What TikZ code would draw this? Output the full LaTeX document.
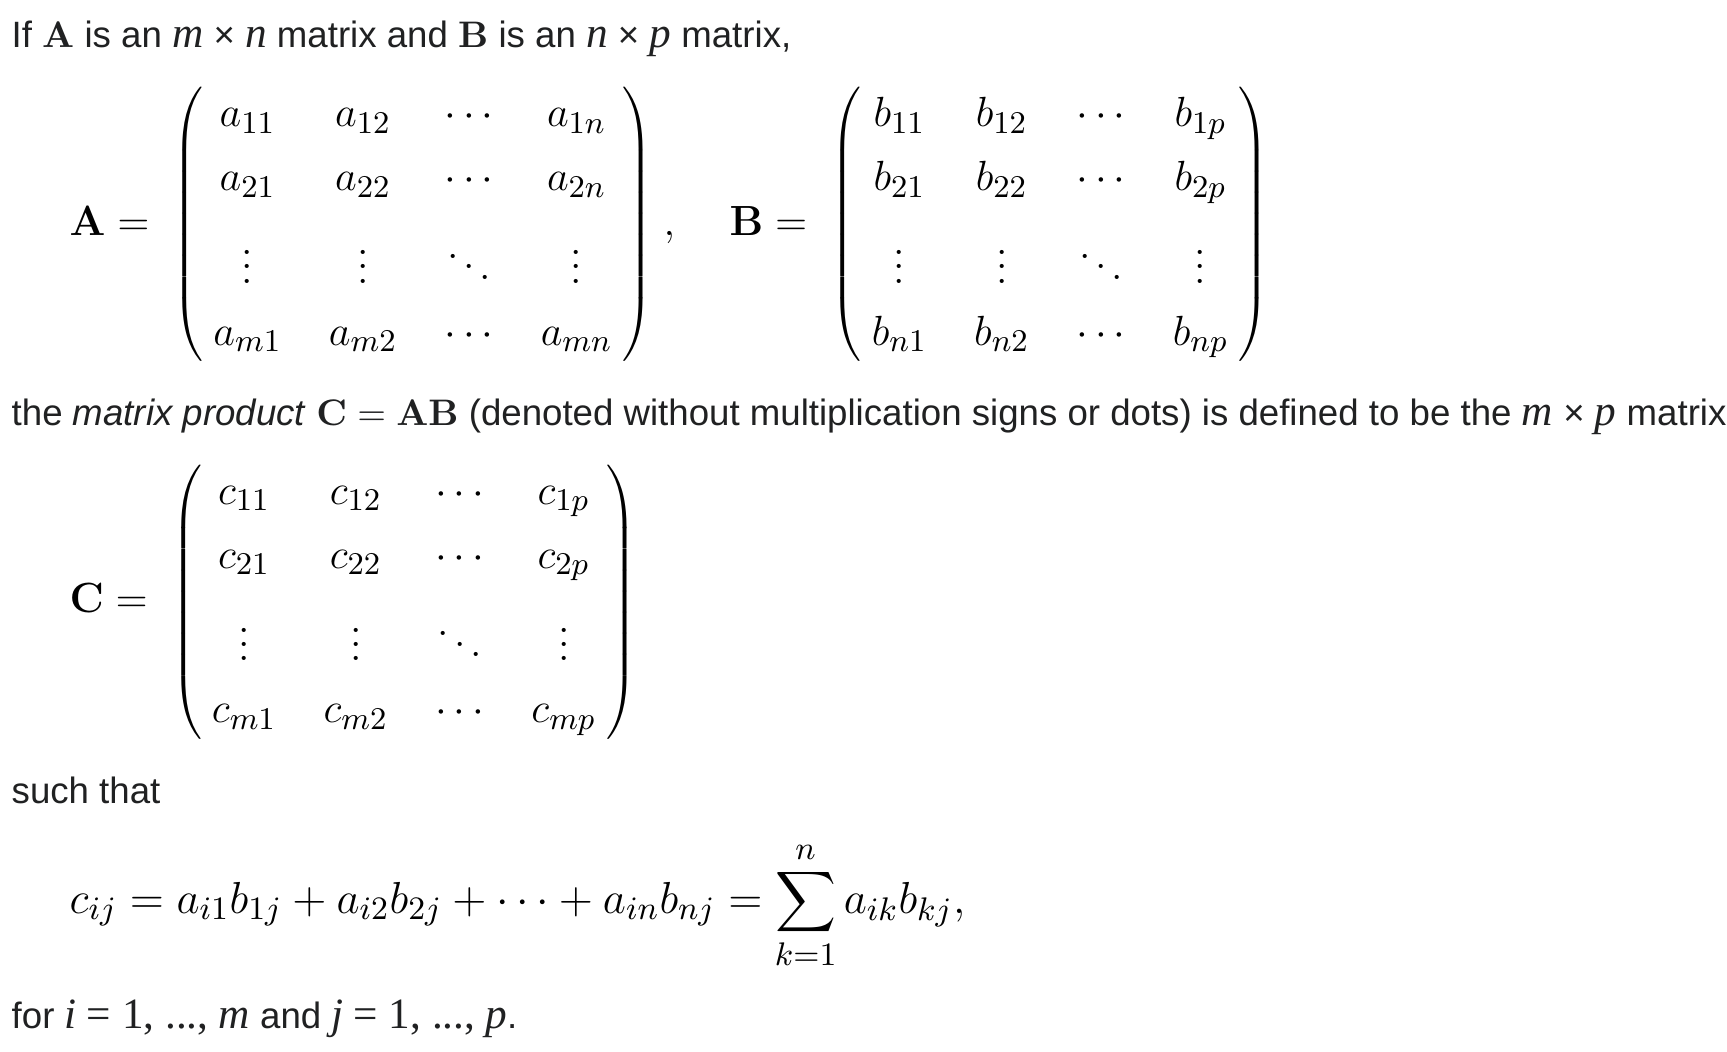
\RequirePackage{fix-cm}
\documentclass[tikz,border=0pt]{standalone}
\usepackage{amsmath}
\usepackage{exscale}
\usepackage[no-math]{fontspec}
\newfontfamily\wikisans{Liberation Sans}
\newfontfamily\wikiserif{Liberation Serif}[ItalicFont={Liberation Serif Italic}]
\usetikzlibrary{matrix}
\definecolor{wikitext}{HTML}{202122}
\DeclareMathSizes{12}{12}{9}{7}
\DeclareMathSizes{12.75}{12.75}{9.3}{7.1}
\newcommand{\wvar}[1]{{\wikiserif\fontsize{12.3}{14}\selectfont\itshape #1}}
\newcommand{\wtxt}[1]{{\wikiserif\fontsize{12.3}{14}\selectfont #1}}
\newcommand{\wmath}[1]{{\fontsize{10.5}{13}\selectfont$#1$}}

\begin{document}
\begin{tikzpicture}[x=0.01cm, y=-0.01cm,
    txt/.style={anchor=base west, inner sep=0pt, text=wikitext, font=\wikisans\fontsize{10.42}{12.5}\selectfont},
    eq/.style={anchor=base west, inner sep=0pt, font=\fontsize{12}{15}\selectfont},
    mat/.style={matrix of math nodes, inner sep=0pt, inner xsep=1.5pt, row sep=3.4pt, column sep=13.4pt,
        left delimiter=(, right delimiter=), font=\fontsize{13.2}{16}\selectfont,
        every delimiter/.style={font=\fontsize{13.2}{16}\selectfont},
        nodes={inner sep=0pt, text height=10.4pt, text depth=4.4pt, font=\fontsize{12}{15}\selectfont}}
    ]
    \useasboundingbox[fill=white] (0, 0) rectangle (1727, 1051);

    %Text
    \node[txt] at (11, 47) (line1) {If \wmath{\mathbf{A}} is an \wvar{m} × \wvar{n} matrix and \wmath{\mathbf{B}} is an \wvar{n} × \wvar{p} matrix,};
    \node[txt] at (11, 425) (line2) {the \textit{matrix product} \wmath{\mathbf{C} = \mathbf{AB}} (denoted without multiplication signs or dots) is defined to be the \wvar{m} × \wvar{p} matrix};
    \node[txt] at (11, 803) (line3) {such that};
    \node[txt] at (11, 1028) (line4) {for \wvar{i} \wtxt{= 1, ...,} \wvar{m} and \wvar{j} \wtxt{= 1, ...,} \wvar{p}.};

    %Matrices
    \node[eq] at (69, 235) (Aeq) {$\mathbf{A} =$};
    \matrix[mat] at (413, 225.5) (A) {
        a_{11} & a_{12} & \cdots & a_{1n} \\
        a_{21} & a_{22} & \cdots & a_{2n} \\[8pt]
        \vdots & \vdots & \ddots & \vdots \\[-0.5pt]
        a_{m1} & a_{m2} & \cdots & a_{mn} \\
    };
    \node[eq] at (663, 235) (comma) {$,$};

    \node[eq] at (729, 235) (Beq) {$\mathbf{B} =$};
    \matrix[mat] at (1050, 225.5) (B) {
        b_{11} & b_{12} & \cdots & b_{1p} \\
        b_{21} & b_{22} & \cdots & b_{2p} \\[8pt]
        \vdots & \vdots & \ddots & \vdots \\[-0.5pt]
        b_{n1} & b_{n2} & \cdots & b_{np} \\
    };

    \node[eq] at (69, 612) (Ceq) {$\mathbf{C} =$};
    \matrix[mat] at (404, 603) (C) {
        c_{11} & c_{12} & \cdots & c_{1p} \\
        c_{21} & c_{22} & \cdots & c_{2p} \\[8pt]
        \vdots & \vdots & \ddots & \vdots \\[-0.5pt]
        c_{m1} & c_{m2} & \cdots & c_{mp} \\
    };

    %Sum
    \node[eq, font=\fontsize{12.75}{15}\selectfont] at (69, 913) (sum) {$\displaystyle c_{ij} = a_{i1}b_{1j} + a_{i2}b_{2j} + \cdots + a_{in}b_{nj} = \sum_{k=1}^{n} a_{ik}b_{kj},$};
\end{tikzpicture}
\end{document}
